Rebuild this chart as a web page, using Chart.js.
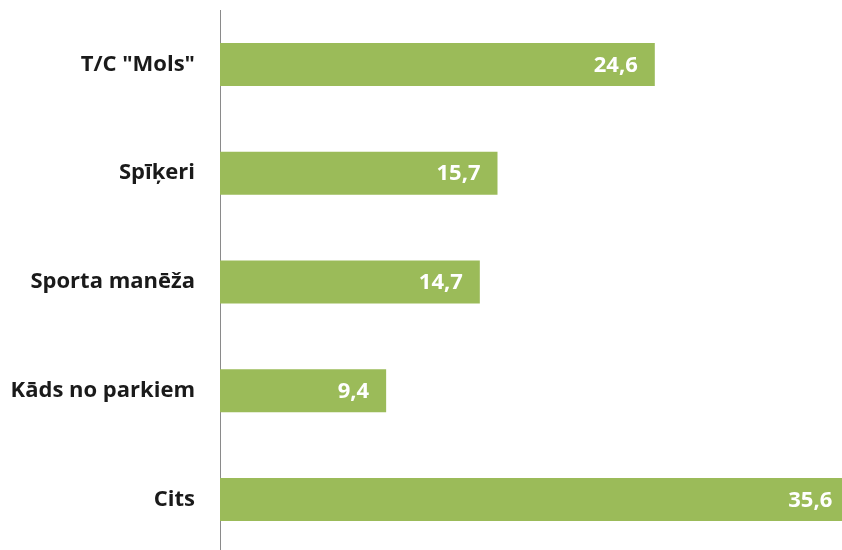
<!DOCTYPE html>
<html>
<head>
<meta charset="utf-8">
<script src="https://cdn.jsdelivr.net/npm/chart.js@4"></script>
<style>
html,body{margin:0;padding:0;background:#fff;overflow:hidden;width:842px;height:550px;}
#wrap{position:absolute;left:0;top:0;width:927px;height:554px;}
</style>
</head>
<body>
<div id="wrap"><canvas id="c"></canvas></div>
<script>
const categories = ['T/C "Mols"', 'Spīķeri', 'Sporta manēža', 'Kāds no parkiem', 'Cits'];
const values = [24.6, 15.7, 14.7, 9.4, 35.6];
const valueLabels = ['24,6', '15,7', '14,7', '9,4', '35,6'];

const labelPlugin = {
  id: 'valueLabels',
  afterDatasetsDraw(chart) {
    const ctx = chart.ctx;
    const meta = chart.getDatasetMeta(0);
    ctx.save();
    ctx.font = 'bold 22px "Open Sans"';
    ctx.fillStyle = '#ffffff';
    ctx.textAlign = 'right';
    ctx.textBaseline = 'middle';
    meta.data.forEach((bar, i) => {
      ctx.fillText(valueLabels[i], bar.x - 17, bar.y + 1);
    });
    ctx.restore();
  }
};

new Chart(document.getElementById('c'), {
  type: 'bar',
  data: {
    labels: categories,
    datasets: [{
      data: values,
      backgroundColor: '#9BBB59',
      borderWidth: 0,
      categoryPercentage: 1,
      barPercentage: 0.395
    }]
  },
  options: {
    indexAxis: 'y',
    responsive: true,
    maintainAspectRatio: false,
    devicePixelRatio: 1,
    animation: false,
    events: [],
    layout: { padding: { top: 10, bottom: 0, left: 0, right: 0 } },
    plugins: { legend: { display: false }, tooltip: { enabled: false } },
    scales: {
      x: { display: false, min: 0, max: 40 },
      y: {
        afterFit(scale) {
          scale.width = 220;
          scale.paddingTop = 0;
          scale.paddingBottom = 0;
        },
        grid: { display: false, drawTicks: false },
        border: { display: true, color: '#8a8a8a', width: 1 },
        ticks: {
          color: '#1a1a1a',
          padding: 25,
          font: { family: '"Open Sans"', weight: 'bold', size: 22 }
        }
      }
    }
  },
  plugins: [labelPlugin]
});
</script>
</body>
</html>
